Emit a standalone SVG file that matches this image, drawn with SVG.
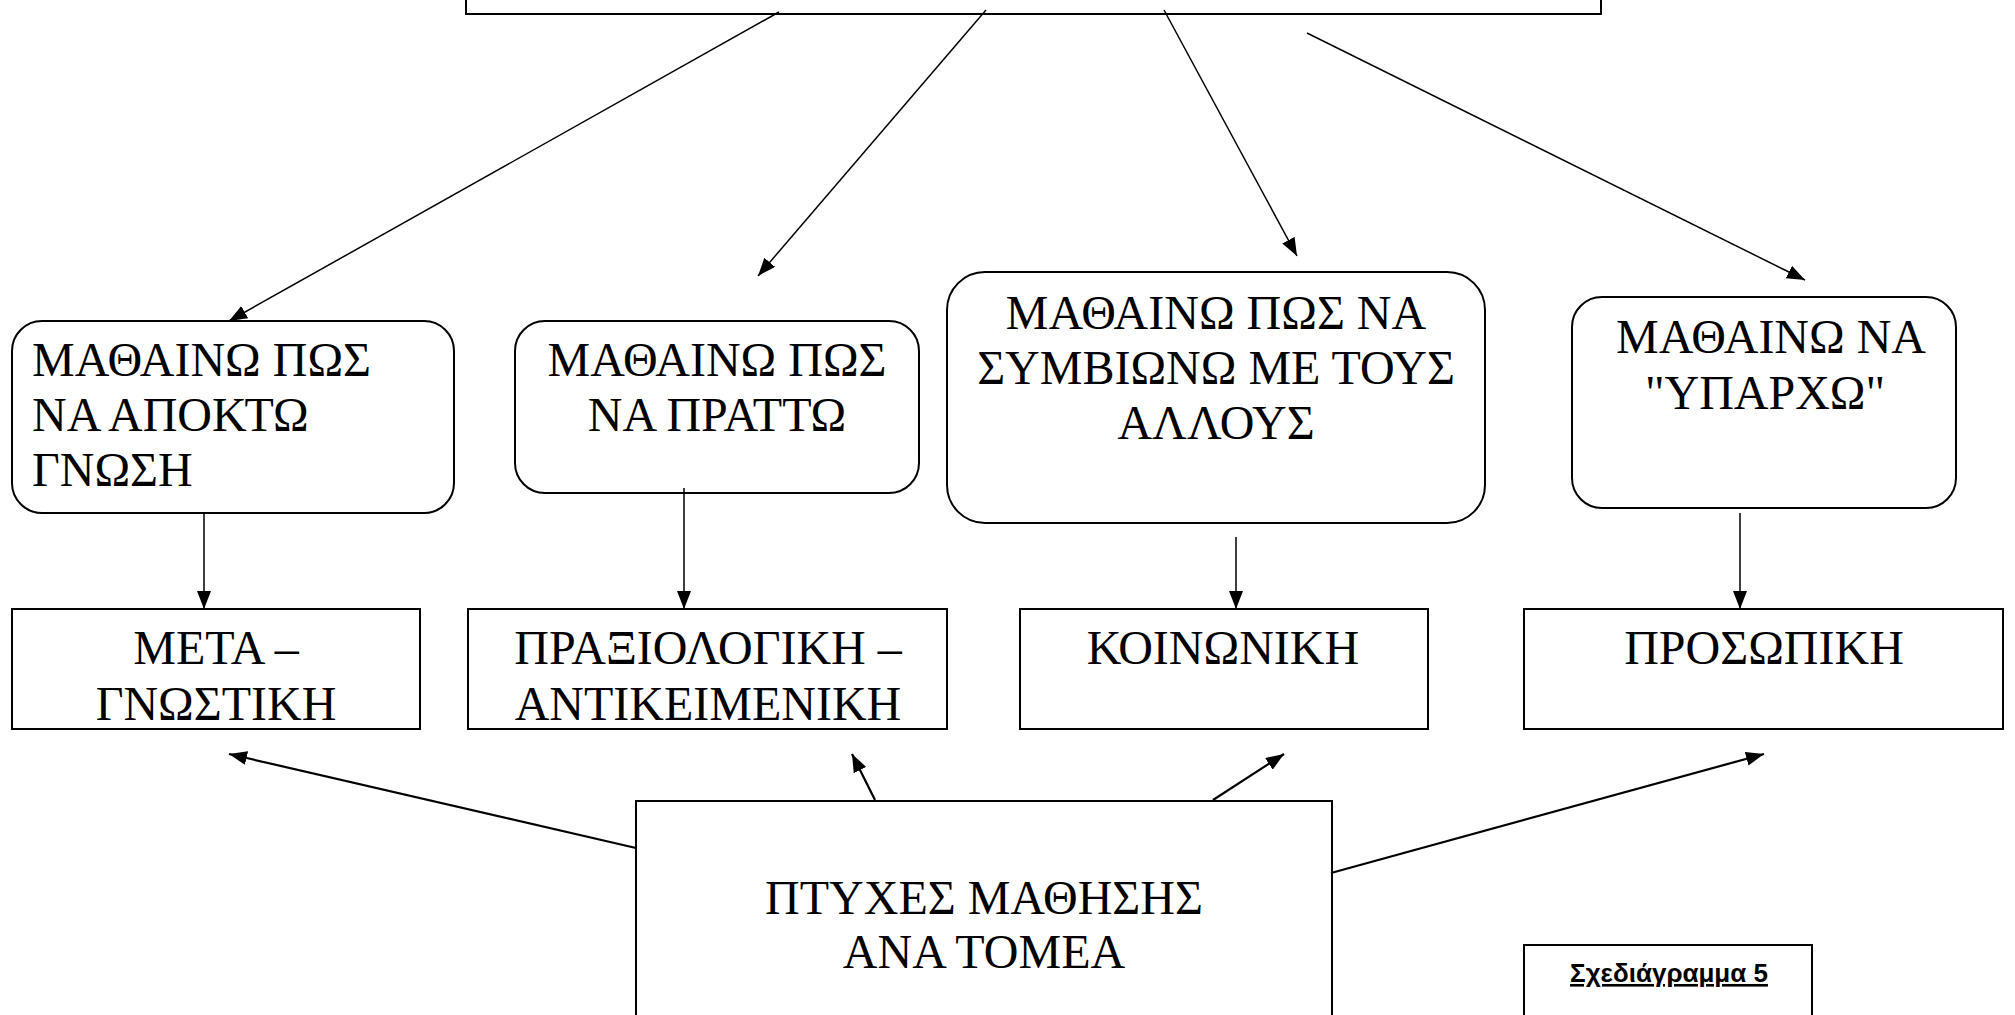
<svg xmlns="http://www.w3.org/2000/svg" width="2015" height="1015" viewBox="0 0 2015 1015">
<defs>
<style>
.box{fill:#fff;stroke:#000;stroke-width:2}
.t{font-family:"Liberation Serif","Times New Roman",serif;font-size:48px;fill:#000}
.c{text-anchor:middle}
.ln{stroke:#000;stroke-width:1.5;fill:none}
.lnb{stroke:#000;stroke-width:2.2;fill:none}
.cap{font-family:"Liberation Sans",Arial,sans-serif;font-size:26px;font-weight:bold;text-decoration:underline;text-anchor:middle;fill:#000}
</style>
<marker id="ah" markerUnits="userSpaceOnUse" markerWidth="20" markerHeight="14" refX="18" refY="7" orient="auto">
<path d="M0,0 L18,7 L0,14 z" fill="#000"/>
</marker>
</defs>
<rect width="2015" height="1015" fill="#fff"/>
<g id="top">
<rect class="box" x="466" y="-50" width="1135" height="64"/>
</g>
<g id="learn-knowledge">
<rect class="box" x="12" y="321" width="442" height="192" rx="30"/>
<text class="t" x="32" y="376">ΜΑΘΑΙΝΩ ΠΩΣ</text>
<text class="t" x="32" y="431">ΝΑ ΑΠΟΚΤΩ</text>
<text class="t" x="32" y="486">ΓΝΩΣΗ</text>
</g>
<g id="learn-do">
<rect class="box" x="515" y="321" width="404" height="172" rx="30"/>
<text class="t c" x="717" y="376">ΜΑΘΑΙΝΩ ΠΩΣ</text>
<text class="t c" x="717" y="431">ΝΑ ΠΡΑΤΤΩ</text>
</g>
<g id="learn-live">
<rect class="box" x="947" y="272" width="538" height="251" rx="38"/>
<text class="t c" x="1216" y="329">ΜΑΘΑΙΝΩ ΠΩΣ ΝΑ</text>
<text class="t c" x="1216" y="384">ΣΥΜΒΙΩΝΩ ΜΕ ΤΟΥΣ</text>
<text class="t c" x="1216" y="439">ΑΛΛΟΥΣ</text>
</g>
<g id="learn-be">
<rect class="box" x="1572" y="297" width="384" height="211" rx="30"/>
<text class="t c" x="1771" y="353">ΜΑΘΑΙΝΩ ΝΑ</text>
<text class="t c" x="1765" y="409">"ΥΠΑΡΧΩ"</text>
</g>
<g id="meta">
<rect class="box" x="12" y="609" width="408" height="120"/>
<text class="t c" x="216" y="664">ΜΕΤΑ –</text>
<text class="t c" x="216" y="720">ΓΝΩΣΤΙΚΗ</text>
</g>
<g id="praxis">
<rect class="box" x="468" y="609" width="479" height="120"/>
<text class="t c" x="708" y="664">ΠΡΑΞΙΟΛΟΓΙΚΗ –</text>
<text class="t c" x="708" y="720">ΑΝΤΙΚΕΙΜΕΝΙΚΗ</text>
</g>
<g id="social">
<rect class="box" x="1020" y="609" width="408" height="120"/>
<text class="t c" x="1223" y="664">ΚΟΙΝΩΝΙΚΗ</text>
</g>
<g id="personal">
<rect class="box" x="1524" y="609" width="479" height="120"/>
<text class="t c" x="1764" y="664">ΠΡΟΣΩΠΙΚΗ</text>
</g>
<g id="aspects">
<rect class="box" x="636" y="801" width="696" height="260"/>
<text class="t c" x="984" y="914">ΠΤΥΧΕΣ ΜΑΘΗΣΗΣ</text>
<text class="t c" x="984" y="968">ΑΝΑ ΤΟΜΕΑ</text>
</g>
<g id="caption">
<rect class="box" x="1524" y="945" width="288" height="120"/>
<text class="cap" x="1669" y="982">Σχεδιάγραμμα 5</text>
</g>
<g id="connectors">
<line class="ln" x1="779" y1="12" x2="229" y2="321" marker-end="url(#ah)"/>
<line class="ln" x1="986" y1="10" x2="758" y2="276" marker-end="url(#ah)"/>
<line class="ln" x1="1164" y1="10" x2="1297" y2="256" marker-end="url(#ah)"/>
<line class="ln" x1="1307" y1="33" x2="1805" y2="280" marker-end="url(#ah)"/>
<line class="ln" x1="204" y1="514" x2="204" y2="609" marker-end="url(#ah)"/>
<line class="ln" x1="684" y1="488" x2="684" y2="609" marker-end="url(#ah)"/>
<line class="ln" x1="1236" y1="537" x2="1236" y2="609" marker-end="url(#ah)"/>
<line class="ln" x1="1740" y1="513" x2="1740" y2="609" marker-end="url(#ah)"/>
<line class="lnb" x1="636" y1="848" x2="229" y2="754" marker-end="url(#ah)"/>
<line class="lnb" x1="875" y1="800" x2="852" y2="754" marker-end="url(#ah)"/>
<line class="lnb" x1="1213" y1="800" x2="1284" y2="754" marker-end="url(#ah)"/>
<line class="lnb" x1="1331" y1="873" x2="1764" y2="754" marker-end="url(#ah)"/>
</g>
</svg>
